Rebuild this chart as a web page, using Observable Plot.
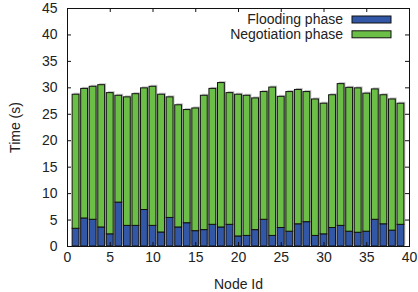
<!DOCTYPE html>
<html><head><meta charset="utf-8">
<script src="https://cdn.jsdelivr.net/npm/d3@7"></script>
<script src="https://cdn.jsdelivr.net/npm/@observablehq/plot@0.6"></script>
<style>body{margin:0;background:#fff}</style>
</head><body><div id="chart"></div>
<script>
const nodeIds = [1,2,3,4,5,6,7,8,9,10,11,12,13,14,15,16,17,18,19,20,21,22,23,24,25,26,27,28,29,30,31,32,33,34,35,36,37,38,39];
const flooding = [3.35,5.3,5.05,3.6,2.3,8.3,3.9,3.9,6.9,3.9,2.65,5.4,3.6,4.4,2.9,3.1,4.1,3.6,4.1,1.9,2.0,3.1,5.05,2.0,3.5,2.8,4.2,4.6,2.0,2.3,3.5,3.9,2.8,2.6,2.8,5.05,4.2,3.0,4.1];
const negotiation = [25.35,24.5,25.15,26.9,26.7,20.2,24.3,24.9,23.0,26.3,26.05,22.8,23.1,21.4,23.2,25.4,25.7,27.3,24.9,26.8,26.5,24.9,24.15,28.05,24.8,26.4,25.4,24.6,25.8,24.7,25.1,26.8,27.2,27.3,26.1,24.65,24.4,24.8,22.9];
const phases = ["Flooding phase", "Negotiation phase"];
const colors = ["#3157a6", "#6cbf46"];
const yTicks = [0,5,10,15,20,25,30,35,40,45];
const xTicks = [0,5,10,15,20,25,30,35,40];

const rows = [];
nodeIds.forEach((id, i) => {
  rows.push({id, phase: phases[0], value: flooding[i]});
  rows.push({id, phase: phases[1], value: negotiation[i]});
});

const W = 418, H = 292, mL = 67, mR = 9, mT = 8, mB = 46;
const pw = W - mL - mR, ph = H - mT - mB, tk = 4;
const font = "Liberation Sans, Arial, sans-serif";

const plot = Plot.plot({
  width: W, height: H,
  marginLeft: mL, marginRight: mR, marginTop: mT, marginBottom: mB,
  style: {fontFamily: font, fontSize: "14px", color: "#222", background: "#fff"},
  x: {domain: [0, 40]},
  y: {domain: [0, 45]},
  color: {domain: phases, range: colors},
  marks: [
    Plot.rectY(rows, {x1: d => d.id - 0.4, x2: d => d.id + 0.4, y: "value", fill: "#c4c4c4", dx: 1.5, dy: -1.5}),
    Plot.rectY(rows, {x1: d => d.id - 0.4, x2: d => d.id + 0.4, y: "value", fill: "phase", stroke: "#111", strokeWidth: 1}),
    Plot.frame({stroke: "#111"}),
    Plot.tickY(yTicks, {y: d => d, insetRight: pw - tk, stroke: "#111"}),
    Plot.tickY(yTicks, {y: d => d, insetLeft: pw - tk, stroke: "#111"}),
    Plot.tickX(xTicks, {x: d => d, insetTop: ph - tk, stroke: "#111"}),
    Plot.tickX(xTicks, {x: d => d, insetBottom: ph - tk, stroke: "#111"}),
    Plot.axisY({ticks: yTicks, tickSize: 0, tickPadding: 10, label: "Time (s)", labelAnchor: "center", labelOffset: 57, labelArrow: "none"}),
    Plot.axisX({ticks: xTicks, tickSize: 0, tickPadding: 6, label: "Node Id", labelAnchor: "center", labelOffset: 42, labelArrow: "none"})
  ]
});
document.getElementById("chart").appendChild(plot);

// legend inside the frame, top-right
const svg = d3.select(plot);
const lg = svg.append("g").attr("font-family", font).attr("font-size", 14).attr("fill", "#222");
phases.forEach((p, i) => {
  const cy = 19.5 + i * 14.8;
  lg.append("text").attr("x", 343).attr("y", cy).attr("dy", "0.35em").attr("text-anchor", "end").text(p);
  lg.append("rect").attr("x", 352).attr("y", cy - 3.5).attr("width", 39).attr("height", 7)
    .attr("fill", colors[i]).attr("stroke", "#111").attr("stroke-width", 1);
});
</script>
</body></html>
